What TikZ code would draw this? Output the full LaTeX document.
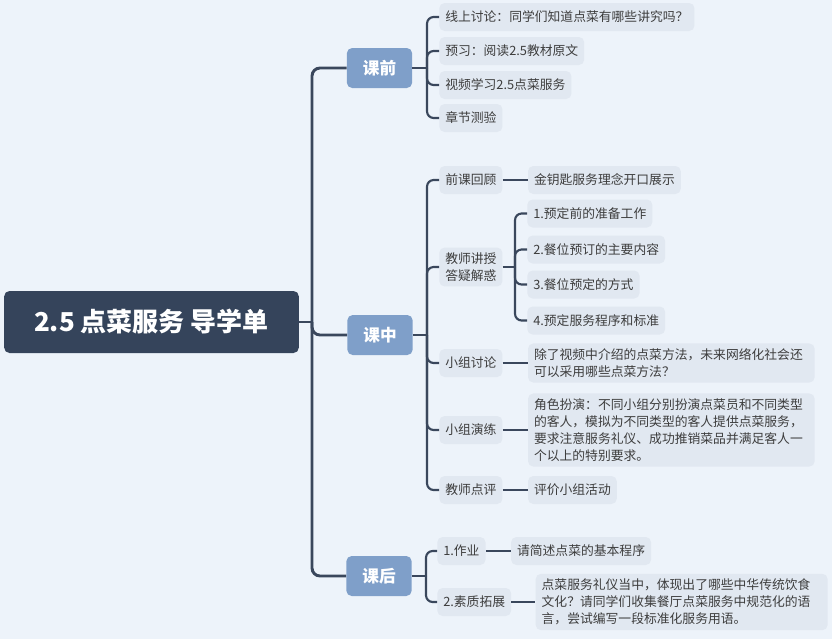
\documentclass[tikz,border=0pt]{standalone}
\usepackage{fontspec}
\setmainfont{Noto Sans CJK SC}
\usetikzlibrary{positioning}
\definecolor{bgc}{HTML}{EDF3FA}
\definecolor{rootc}{HTML}{35445B}
\definecolor{stagec}{HTML}{7F9FC9}
\definecolor{leafc}{HTML}{E1E8F1}
\definecolor{linec}{HTML}{3A475C}
\definecolor{textc}{HTML}{3D3D3D}
\tikzset{
  root/.style={fill=rootc,rounded corners=4pt,text=white,
    font=\fontsize{19.5}{23}\selectfont\bfseries,
    minimum width=221pt,minimum height=46.5pt},
  stage/.style={fill=stagec,rounded corners=4pt,text=white,
    font=\fontsize{12.5}{15}\selectfont\bfseries,
    minimum width=49pt,minimum height=30pt},
  leaf/.style={fill=leafc,rounded corners=4pt,text=textc,
    font=\fontsize{9.6}{12.8}\selectfont,inner xsep=4.5pt,inner ysep=3.75pt,
    minimum height=21pt,anchor=west,align=left},
  trunk/.style={draw=linec,line width=2.2pt,rounded corners=6pt},
  twig/.style={draw=linec,line width=1.6pt,rounded corners=5pt}
}
\begin{document}
\begin{tikzpicture}[x=0.75pt,y=-0.75pt]
    \fill[bgc] (0,0) rectangle (832,639);
    \node[root] (root) at (151.5,322) {2.5\ 点菜服务\ 导学单};
    \node[stage] (keqian) at (379.5,68) {课前};
    \node[stage] (kezhong) at (380,335) {课中};
    \node[stage] (kehou) at (379,576) {课后};
    % 课前
    \node[leaf] (xianshang) at (439,17) {线上讨论：同学们知道点菜有哪些讲究吗？};
    \node[leaf] (yuxi) at (439,51) {预习：阅读2.5教材原文};
    \node[leaf] (shipin) at (439,85) {视频学习2.5点菜服务};
    \node[leaf] (ceyan) at (439,118) {章节测验};
    % 课中
    \node[leaf] (huigu) at (439,180) {前课回顾};
    \node[leaf] (zhanshi) [right=18.75pt of huigu] {金钥匙服务理念开口展示};
    \node[leaf] (jiangshou) at (439,267) {教师讲授\\答疑解惑};
    \node[leaf] (zhunbei) at (527,213.5) {1.预定前的准备工作};
    \node[leaf] (neirong) at (527,249.5) {2.餐位预订的主要内容};
    \node[leaf] (fangshi) at (527,284.5) {3.餐位预定的方式};
    \node[leaf] (chengxu) at (527,320.5) {4.预定服务程序和标准};
    \node[leaf] (taolun) at (439,363) {小组讨论};
    \node[leaf,text width=206pt] (wenti) [right=18.75pt of taolun]
    {除了视频中介绍的点菜方法，未来网络化社会还\\可以采用哪些点菜方法？};
    \node[leaf] (yanlian) at (439,430) {小组演练};
    \node[leaf,text width=206pt] (banyan) [right=18.75pt of yanlian]
    {角色扮演：不同小组分别扮演点菜员和不同类型\\的客人，模拟为不同类型的客人提供点菜服务，\\要求注意服务礼仪、成功推销菜品并满足客人一\\个以上的特别要求。};
    \node[leaf] (dianping) at (439,490) {教师点评};
    \node[leaf] (pingjia) [right=18.75pt of dianping] {评价小组活动};
    % 课后
    \node[leaf] (zuoye) at (437,551) {1.作业};
    \node[leaf] (chengxuti) [right=18.75pt of zuoye] {请简述点菜的基本程序};
    \node[leaf] (tuozhan) at (437,602) {2.素质拓展};
    \node[leaf,text width=210pt] (wenhua) [right=18pt of tuozhan]
    {点菜服务礼仪当中，体现出了哪些中华传统饮食\\文化？请同学们收集餐厅点菜服务中规范化的语\\言，尝试编写一段标准化服务用语。};
    % connectors
    \coordinate (jroot) at (312,322);
    \coordinate (jq) at (427,68);
    \coordinate (jz) at (427,335);
    \coordinate (jh) at (426,576);
    \coordinate (js) at (515,267);
    \draw[trunk] (root.east) -- (jroot);
    \draw[trunk] (jroot) |- (keqian.west);
    \draw[trunk] (jroot) |- (kezhong.west);
    \draw[trunk] (jroot) |- (kehou.west);
    \draw[twig] (keqian.east) -- (jq);
    \draw[twig] (jq) |- (xianshang.west);
    \draw[twig] (jq) |- (yuxi.west);
    \draw[twig] (jq) |- (shipin.west);
    \draw[twig] (jq) |- (ceyan.west);
    \draw[twig] (kezhong.east) -- (jz);
    \draw[twig] (jz) |- (huigu.west);
    \draw[twig] (jz) |- (jiangshou.west);
    \draw[twig] (jz) |- (taolun.west);
    \draw[twig] (jz) |- (yanlian.west);
    \draw[twig] (jz) |- (dianping.west);
    \draw[twig] (huigu) -- (zhanshi);
    \draw[twig] (jiangshou.east) -- (js);
    \draw[twig] (js) |- (zhunbei.west);
    \draw[twig] (js) |- (neirong.west);
    \draw[twig] (js) |- (fangshi.west);
    \draw[twig] (js) |- (chengxu.west);
    \draw[twig] (taolun) -- (wenti);
    \draw[twig] (yanlian) -- (banyan);
    \draw[twig] (dianping) -- (pingjia);
    \draw[twig] (kehou.east) -- (jh);
    \draw[twig] (jh) |- (zuoye.west);
    \draw[twig] (jh) |- (tuozhan.west);
    \draw[twig] (zuoye) -- (chengxuti);
    \draw[twig] (tuozhan) -- (wenhua);
\end{tikzpicture}
\end{document}
